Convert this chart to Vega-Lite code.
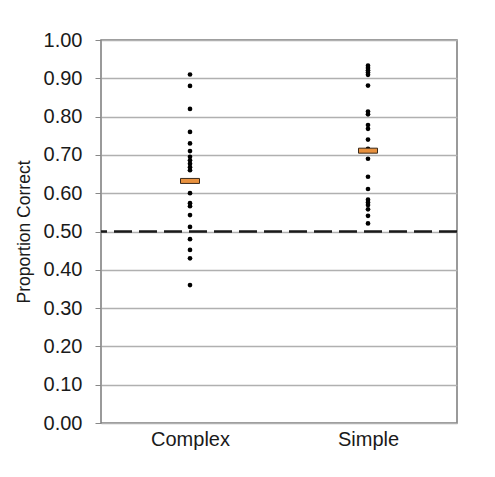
{
  "$schema": "https://vega.github.io/schema/vega-lite/v6.json",
  "width": 356,
  "height": 383,
  "autosize": {"type": "none"},
  "padding": {"left": 101, "top": 40, "right": 38, "bottom": 54},
  "background": "white",
  "config": {
    "view": {"stroke": "#7a7a7a", "strokeWidth": 1.5},
    "font": "Liberation Sans"
  },
  "datasets": {
    "points": [
      {"condition": "Complex", "p": 0.91},
      {"condition": "Complex", "p": 0.88},
      {"condition": "Complex", "p": 0.82},
      {"condition": "Complex", "p": 0.76},
      {"condition": "Complex", "p": 0.73},
      {"condition": "Complex", "p": 0.71},
      {"condition": "Complex", "p": 0.695},
      {"condition": "Complex", "p": 0.686},
      {"condition": "Complex", "p": 0.677},
      {"condition": "Complex", "p": 0.668},
      {"condition": "Complex", "p": 0.66},
      {"condition": "Complex", "p": 0.60},
      {"condition": "Complex", "p": 0.574},
      {"condition": "Complex", "p": 0.566},
      {"condition": "Complex", "p": 0.543},
      {"condition": "Complex", "p": 0.512},
      {"condition": "Complex", "p": 0.48},
      {"condition": "Complex", "p": 0.452},
      {"condition": "Complex", "p": 0.43},
      {"condition": "Complex", "p": 0.36},
      {"condition": "Simple", "p": 0.933},
      {"condition": "Simple", "p": 0.927},
      {"condition": "Simple", "p": 0.921},
      {"condition": "Simple", "p": 0.915},
      {"condition": "Simple", "p": 0.909},
      {"condition": "Simple", "p": 0.881},
      {"condition": "Simple", "p": 0.813},
      {"condition": "Simple", "p": 0.806},
      {"condition": "Simple", "p": 0.778},
      {"condition": "Simple", "p": 0.768},
      {"condition": "Simple", "p": 0.74},
      {"condition": "Simple", "p": 0.716},
      {"condition": "Simple", "p": 0.69},
      {"condition": "Simple", "p": 0.643},
      {"condition": "Simple", "p": 0.611},
      {"condition": "Simple", "p": 0.583},
      {"condition": "Simple", "p": 0.576},
      {"condition": "Simple", "p": 0.569},
      {"condition": "Simple", "p": 0.558},
      {"condition": "Simple", "p": 0.541},
      {"condition": "Simple", "p": 0.521}
    ],
    "medians": [
      {"condition": "Complex", "p": 0.632},
      {"condition": "Simple", "p": 0.711}
    ],
    "chance": [{"p": 0.5}]
  },
  "encoding": {
    "y": {
      "field": "p",
      "type": "quantitative",
      "scale": {"domain": [0, 1], "nice": false},
      "axis": {
        "title": "Proportion Correct",
        "titleFontSize": 17.5,
        "titleFontWeight": "normal",
        "titleColor": "#1a1a1a",
        "titlePadding": 10,
        "values": [0, 0.1, 0.2, 0.3, 0.4, 0.5, 0.6, 0.7, 0.8, 0.9, 1.0],
        "format": ".2f",
        "labelOverlap": false,
        "labelFontSize": 20,
        "labelColor": "#1a1a1a",
        "labelPadding": 13,
        "tickSize": 6,
        "tickColor": "#888",
        "gridColor": "#b0b0b0",
        "gridWidth": 1.5,
        "domain": false
      }
    }
  },
  "layer": [
    {
      "data": {"name": "points"},
      "mark": {"type": "circle", "color": "black", "opacity": 1, "size": 22},
      "encoding": {
        "x": {
          "field": "condition",
          "type": "nominal",
          "scale": {"type": "point", "padding": 0.5},
          "axis": {
            "title": null,
            "labelAngle": 0,
            "labelFontSize": 20,
            "labelColor": "#1a1a1a",
            "labelPadding": 6,
            "ticks": false,
            "domain": false
          }
        }
      }
    },
    {
      "data": {"name": "chance"},
      "mark": {"type": "rule", "color": "#1a1a1a", "strokeWidth": 2.5, "strokeDash": [18, 7]},
      "encoding": {}
    },
    {
      "data": {"name": "medians"},
      "mark": {"type": "tick", "orient": "horizontal", "size": 19, "thickness": 5, "color": "#e8913e", "stroke": "#3a2a1a", "strokeWidth": 1, "opacity": 1},
      "encoding": {
        "x": {"field": "condition", "type": "nominal"}
      }
    }
  ]
}
